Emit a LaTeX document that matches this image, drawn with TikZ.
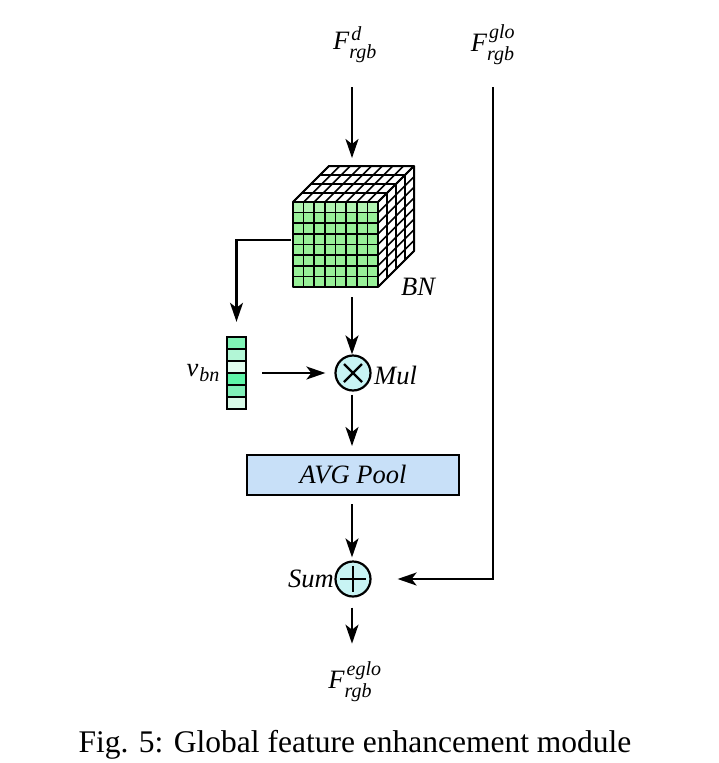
\documentclass[tikz,border=0pt]{standalone}
\usepackage{amsmath}
\usepackage{fontspec}
\setmainfont{Liberation Serif}
\DeclareMathSizes{26.5}{26.5}{20}{15}
\usetikzlibrary{arrows.meta}
\definecolor{cubegreen}{RGB}{152,240,152}
\definecolor{cubegreenlt}{RGB}{178,244,178}
\definecolor{opcyan}{RGB}{200,244,244}
\definecolor{poolblue}{RGB}{200,224,248}
\definecolor{vA}{RGB}{128,244,182}
\definecolor{vB}{RGB}{178,246,214}
\definecolor{vC}{RGB}{224,252,238}
\definecolor{vD}{RGB}{94,245,168}
\definecolor{vE}{RGB}{128,240,184}
\definecolor{vF}{RGB}{216,250,232}
\newcommand{\lowsup}[1]{\raisebox{-3pt}{\kern2pt\fontsize{20}{20}\selectfont\itshape #1}}
\begin{document}
\begin{tikzpicture}[x=1pt,y=-1pt,
  lbl/.style={font=\fontsize{26.5}{30}\selectfont, inner sep=0pt},
  arr/.style={line width=2.2pt,-{Stealth[length=19pt,width=13pt,inset=5pt]}},
  opnode/.style={circle, draw, line width=2.2pt, fill=opcyan, minimum size=35pt, inner sep=0pt},
  poolbox/.style={draw, line width=2pt, fill=poolblue, minimum width=212pt, minimum height=40pt, inner sep=0pt, font=\fontsize{26.5}{30}\selectfont\itshape},
  grid/.style={line width=1.6pt},
  cell/.style={draw, line width=1.5pt, minimum width=19pt, minimum height=12pt, inner sep=0pt}
]
\useasboundingbox (0,0) rectangle (718,763);

% ---------- labels ----------
\node[lbl] (fd) at (355,45) {$\textit{F}^{\lowsup{d}}_{\textit{rgb}}$};
\node[lbl] (fg) at (493,45) {$\textit{F}^{\lowsup{glo}}_{\textit{rgb}}$};
\node[lbl] (fe) at (355,682) {$\textit{F}^{\lowsup{eglo}}_{\textit{rgb}}$};

% ---------- cube ----------
% top face
\fill[white] (293,202) -- (329,166) -- (414,166) -- (378,202) -- cycle;
\foreach \k in {0,...,4} \draw[grid] ({293+9*\k},{202-9*\k}) -- ++(85,0);
\foreach \i in {0,...,8} \draw[grid] ({293+10.625*\i},202) -- ++(36,-36);
% right face
\fill[white] (378,202) -- (414,166) -- (414,251) -- (378,287) -- cycle;
\foreach \k in {0,...,4} \draw[grid] ({378+9*\k},{202-9*\k}) -- ++(0,85);
\foreach \j in {0,...,8} \draw[grid] (378,{202+10.625*\j}) -- ++(36,-36);
% front face
\fill[cubegreen] (293,202) rectangle (378,287);
\fill[cubegreenlt] (293,202) rectangle (378,212.6);
\foreach \i in {0,...,8} \draw[grid] ({293+10.625*\i},202) -- ++(0,85);
\foreach \j in {0,...,8} \draw[grid] (293,{202+10.625*\j}) -- ++(85,0);
\draw[line width=2pt,line join=round] (293,202) rectangle (378,287);
\draw[line width=2pt,line join=round] (293,202) -- (329,166) -- (414,166) -- (414,251) -- (378,287) (378,202) -- (414,166);
\node[inner sep=0pt, minimum width=121pt, minimum height=121pt] (cube) at (353.5,226.5) {};
\node[lbl, anchor=center] (bn) at (418,287) {\itshape BN};

% ---------- vector v_bn ----------
\node[cell, fill=vA] (c1) at (236.5,343) {};
\node[cell, fill=vB] (c2) at (236.5,355) {};
\node[cell, fill=vC] (c3) at (236.5,367) {};
\node[cell, fill=vD] (c4) at (236.5,379) {};
\node[cell, fill=vE] (c5) at (236.5,391) {};
\node[cell, fill=vF] (c6) at (236.5,403) {};
\node[inner sep=0pt, minimum width=19pt, minimum height=72pt] (vbn) at (236.5,373) {};
\node[lbl, anchor=east] (vlbl) at (220,373) {$\textit{v}_{\kern1pt\textit{bn}}$};

% ---------- operators ----------
\node[opnode] (mul) at (353,373) {};
\draw[line width=2.2pt] ([shift={(-9,-9)}]mul.center) -- ([shift={(9,9)}]mul.center)
                      ([shift={(-9,9)}]mul.center) -- ([shift={(9,-9)}]mul.center);
\node[lbl, anchor=west] (mullbl) at (374,375) {\itshape Mul};

\node[poolbox] (avg) at (353,475) {AVG Pool};

\node[opnode] (sum) at (353,579) {};
\draw[line width=2.6pt] ([shift={(-13,0)}]sum.center) -- ([shift={(13,0)}]sum.center)
                        ([shift={(0,-13)}]sum.center) -- ([shift={(0,13)}]sum.center);
\node[lbl, anchor=east] (sumlbl) at (334,579) {\itshape Sum};

% ---------- connectors ----------
\coordinate (fdout) at (352,87);
\coordinate (fgout) at (493,87);
\coordinate (cubeleft) at (291,240);
\draw[arr] (fdout) -- (352,158);
\draw[arr, shorten <=10pt] (cube.south -| 352,0) -- (mul.north -| 352,0);
\draw[arr] (cubeleft) -| ([yshift=15pt]vbn.north);
\draw[arr, shorten <=16pt, shorten >=9pt] (vbn.east) -- (mul.west);
\draw[arr, shorten <=3pt, shorten >=8pt] (mul.south -| 352,0) -- (avg.north -| 352,0);
\draw[arr, shorten <=8pt, shorten >=3pt] (avg.south -| 352,0) -- (sum.north -| 352,0);
\draw[arr, shorten <=10pt, shorten >=18pt] (sum.south -| 352,0) -- (fe.north -| 352,0);
\draw[arr, shorten >=26pt] (fgout) |- (sum.east);

% ---------- caption ----------
\node[font=\fontsize{31.5}{36}\selectfont, inner sep=0pt] (cap) at (355,745) {Fig. 5: Global feature enhancement module};
\end{tikzpicture}
\end{document}
